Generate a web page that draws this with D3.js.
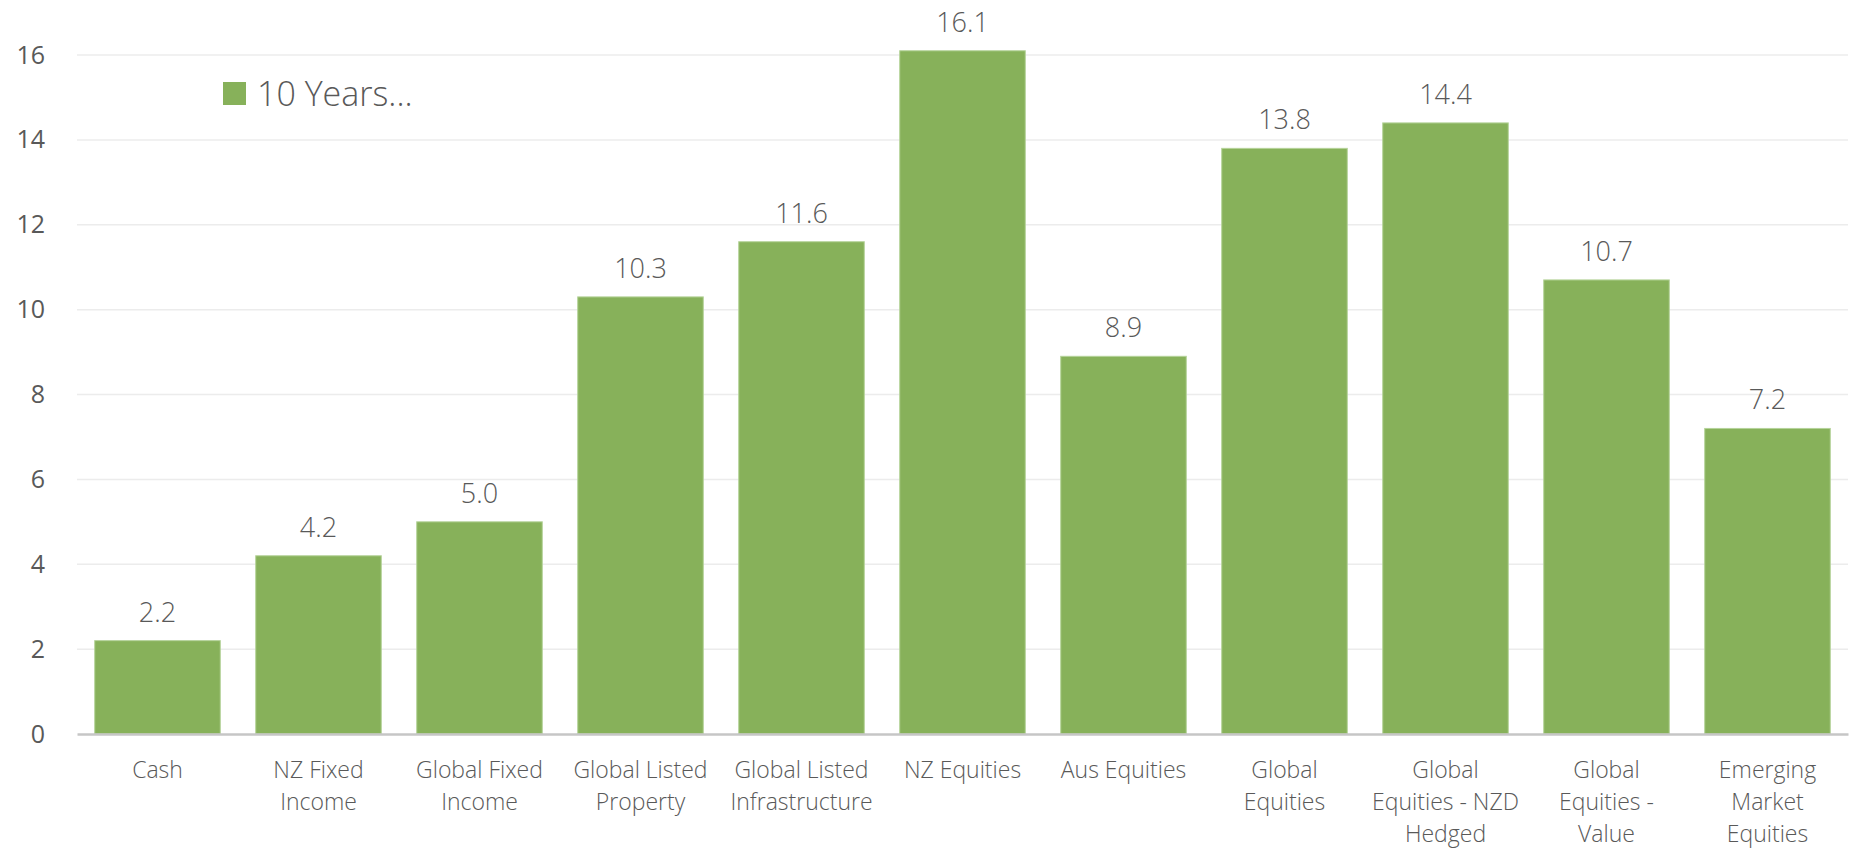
<!DOCTYPE html>
<html>
<head>
<meta charset="utf-8">
<script src="https://cdn.jsdelivr.net/npm/d3@7"></script>
<style>
  body { margin: 0; background: #fff; }
  svg { display: block; }
  text { font-family: "Open Sans", "Segoe UI", sans-serif; fill: #595959; }
</style>
</head>
<body>
<div id="chart"></div>
<script>
// category labels, already split the way the original wraps them
const categories = [
  "Cash",
  "NZ Fixed|Income",
  "Global Fixed|Income",
  "Global Listed|Property",
  "Global Listed|Infrastructure",
  "NZ Equities",
  "Aus Equities",
  "Global|Equities",
  "Global|Equities - NZD|Hedged",
  "Global|Equities -|Value",
  "Emerging|Market|Equities"
]
const values = [2.2, 4.2, 5.0, 10.3, 11.6, 16.1, 8.9, 13.8, 14.4, 10.7, 7.2]
const y_ticks = [0, 2, 4, 6, 8, 10, 12, 14, 16]
const series_name = "10 Years..."

const W = 1854, H = 848
const margin = {top: 55, right: 6, bottom: 114, left: 77}
const width = W - margin.left - margin.right
const height = H - margin.top - margin.bottom
const bar_color = "#87b15a"

const svg = d3.select("#chart").append("svg")
  .attr("width", W)
  .attr("height", H)

const g = svg.append("g")
  .attr("transform", "translate(" + margin.left + "," + margin.top + ")")

let x = d3.scaleBand()
  .domain(categories)
  .range([0, width])
  .paddingInner(0.22)
  .paddingOuter(0.11)

let y = d3.scaleLinear()
  .domain([0, 16])
  .range([height, 0])

// gridlines
g.append("g")
  .selectAll("line")
  .data(y_ticks.filter(d => d > 0))
  .enter().append("line")
    .attr("x1", 0)
    .attr("x2", width)
    .attr("y1", d => y(d))
    .attr("y2", d => y(d))
    .attr("stroke", "#ececec")
    .attr("stroke-width", 1.5)

// y axis labels (no axis line)
let yAxis = g.append("g")
  .call(d3.axisLeft(y).tickValues(y_ticks).tickSize(0).tickPadding(32))
yAxis.select(".domain").remove()
yAxis.selectAll("text")
  .attr("font-size", 25)
  .attr("font-family", "'Open Sans', sans-serif")
  .attr("fill", "#595959")

// bars
g.selectAll(".bar")
  .data(values)
  .enter().append("rect")
    .attr("class", "bar")
    .attr("x", (d, i) => x(categories[i]))
    .attr("width", x.bandwidth())
    .attr("y", d => y(d))
    .attr("height", d => height - y(d))
    .attr("fill", bar_color)
    .attr("stroke", "#b5d39a")
    .attr("stroke-width", 1)

// value labels
g.selectAll(".val")
  .data(values)
  .enter().append("text")
    .attr("class", "val")
    .attr("x", (d, i) => x(categories[i]) + x.bandwidth() / 2)
    .attr("y", d => y(d) - 19)
    .attr("text-anchor", "middle")
    .attr("font-size", 27)
    .attr("font-weight", 300)
    .text(d => d.toFixed(1))

// x axis
let xAxis = g.append("g")
  .attr("transform", "translate(0," + height + ")")
  .call(d3.axisBottom(x).tickSize(0).tickFormat(""))
xAxis.select(".domain")
  .attr("stroke", "#c6c6c6")
  .attr("stroke-width", 2.5)

xAxis.selectAll(".tick").each(function(d) {
  let lines = d.split("|")
  let t = d3.select(this).append("text")
    .attr("text-anchor", "middle")
    .attr("font-size", 23)
    .attr("font-weight", 300)
    .attr("fill", "#595959")
  lines.forEach((ln, i) => {
    t.append("tspan")
      .attr("x", 0)
      .attr("y", 44 + i * 32)
      .text(ln)
  })
})

// legend
let legend = svg.append("g")
  .attr("transform", "translate(223,82)")
legend.append("rect")
  .attr("width", 23)
  .attr("height", 23)
  .attr("fill", bar_color)
legend.append("text")
  .attr("x", 34)
  .attr("y", 24)
  .attr("font-size", 34)
  .attr("font-weight", 300)
  .text(series_name)
</script>
</body>
</html>
